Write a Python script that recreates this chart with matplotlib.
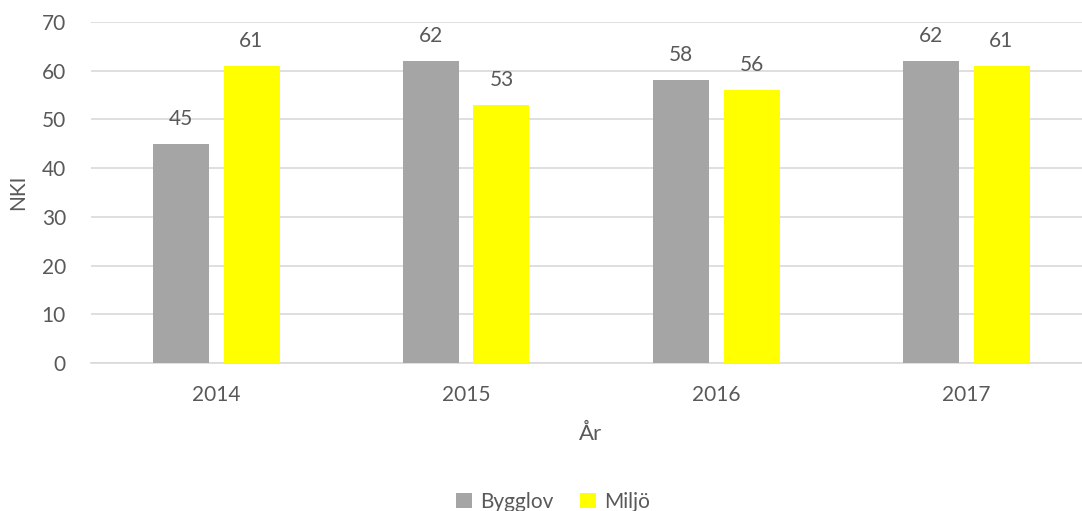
import matplotlib
matplotlib.use("Agg")
import matplotlib.pyplot as plt
import numpy as np
from matplotlib.patches import Patch

years = ["2014", "2015", "2016", "2017"]
bygglov = [45, 62, 58, 62]
miljo = [61, 53, 56, 61]
series_names = ["Bygglov", "Miljö"]
colors = ["#A5A5A5", "#FFFF00"]
text_color = "#595959"

plt.rcParams['font.family'] = ['Lato', 'DejaVu Sans']

W, H = 1082, 511
fig = plt.figure(figsize=(W/100, H/100), dpi=100)
left, right = 91, 1091
top, bottom = 22, 363
ax = fig.add_axes([left/W, 1 - bottom/H, (right-left)/W, (bottom-top)/H])

fs = 15
x = np.arange(len(years))
width = 0.224
off = 0.142
b1 = ax.bar(x - off, bygglov, width, color=colors[0], zorder=3)
b2 = ax.bar(x + off, miljo, width, color=colors[1], zorder=3)

for bars in (b1, b2):
    for rect in bars:
        h = rect.get_height()
        ax.annotate(f"{int(h)}", (rect.get_x() + rect.get_width()/2, h),
                    xytext=(0, 11), textcoords="offset points",
                    ha="center", va="bottom", fontsize=fs, color=text_color)

ax.set_xlim(-0.5, len(years) - 0.5)
ax.set_ylim(0, 70)
ax.set_yticks(range(0, 71, 10))
ax.set_xticks(x)
ax.set_xticklabels(years)
ax.yaxis.grid(True, color="#D9D9D9", linewidth=1.2, zorder=0)
ax.set_axisbelow(True)
for s in ["top", "right", "left"]:
    ax.spines[s].set_visible(False)
ax.spines["bottom"].set_color("#D9D9D9")
ax.spines["bottom"].set_linewidth(1.2)
ax.tick_params(axis="both", length=0, labelsize=fs, colors=text_color)
ax.tick_params(axis="x", pad=16)
ax.tick_params(axis="y", pad=18)

ax.set_ylabel("NKI", fontsize=fs, color=text_color, labelpad=10)
fig.text(591/W, 1 - 434/H, "År", ha="center", va="center", fontsize=16, color=text_color)

handles = [Patch(facecolor=c, edgecolor="none") for c in colors]
fig.legend(handles, series_names, loc="center", bbox_to_anchor=(553/W, 1 - 502/H),
           ncol=2, frameon=False, fontsize=fs, labelcolor=text_color,
           handlelength=0.75, handleheight=0.75, handletextpad=0.4, columnspacing=1.3)

fig.savefig("out.png", dpi=100)
